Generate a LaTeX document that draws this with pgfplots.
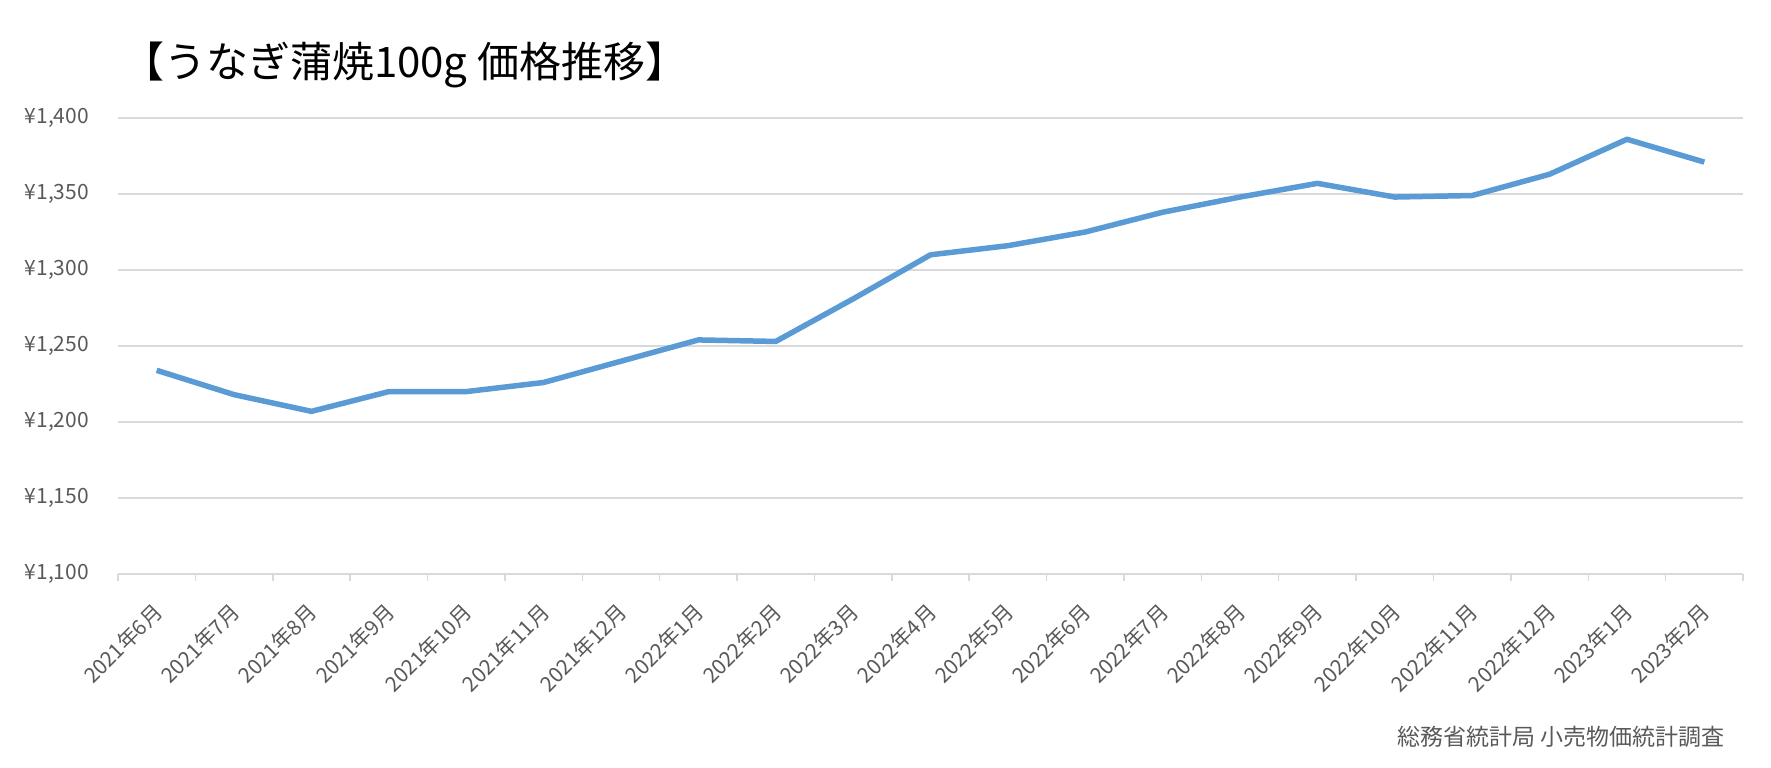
\documentclass[border=0pt]{standalone}
\usepackage{fontspec}
\setmainfont{Noto Sans CJK JP}
\usepackage{pgfplots}
\usepackage{pgfplotstable}
\pgfplotsset{compat=1.18}

\definecolor{lineblue}{HTML}{5B9BD5}
\definecolor{gridgray}{HTML}{D9D9D9}
\definecolor{labelgray}{HTML}{595959}

% monthly price of 100g kabayaki (yen)
\pgfplotstableread{
x price
0  1234
1  1218
2  1207
3  1220
4  1220
5  1226
6  1240
7  1254
8  1253
9  1281
10 1310
11 1316
12 1325
13 1338
14 1348
15 1357
16 1348
17 1349
18 1363
19 1386
20 1371
}\eeltable

\begin{document}
\begin{tikzpicture}
\useasboundingbox (0pt,0pt) rectangle (885.5pt,383.5pt);
\begin{axis}[
    at={(59pt,96.5pt)}, anchor=south west,
    scale only axis,
    width=812.5pt, height=228pt,
    xmin=-0.5, xmax=20.5,
    ymin=1100, ymax=1400,
    xtick={0,...,20},
    xticklabels={2021年6月,2021年7月,2021年8月,2021年9月,2021年10月,2021年11月,2021年12月,
        2022年1月,2022年2月,2022年3月,2022年4月,2022年5月,2022年6月,2022年7月,2022年8月,
        2022年9月,2022年10月,2022年11月,2022年12月,2023年1月,2023年2月},
    minor xtick={-0.5,0.5,...,20.5},
    ytick={1100,1150,...,1400},
    yticklabel={¥\pgfmathprintnumber[assume math mode=true,1000 sep={,}]{\tick}},
    ymajorgrids,
    grid style={gridgray, line width=0.75pt},
    axis x line=bottom, axis y line=left,
    x axis line style={-, gridgray, line width=0.75pt},
    y axis line style={draw=none},
    major tick length=0pt,
    minor tick length=3.5pt,
    tick align=outside,
    every minor tick/.append style={gridgray, line width=0.75pt},
    tick label style={font=\fontsize{10.5}{12}\selectfont, color=labelgray},
    yticklabel style={xshift=-11pt},
    xticklabel style={yshift=-17pt, xshift=1pt, rotate=45, anchor=east, inner sep=0pt},
]
\addplot[lineblue, line width=2.75pt, line join=round, no marks]
    table[x=x, y=price]{\eeltable};
\end{axis}
\node[anchor=base west, font=\fontsize{21}{25}\selectfont] at (57.5pt,344.5pt)
    {【うなぎ蒲焼100g 価格推移】};
\node[anchor=base east, font=\fontsize{11.5}{13}\selectfont, color=labelgray] at (866pt,11pt)
    {総務省統計局 小売物価統計調査};
\end{tikzpicture}
\end{document}
